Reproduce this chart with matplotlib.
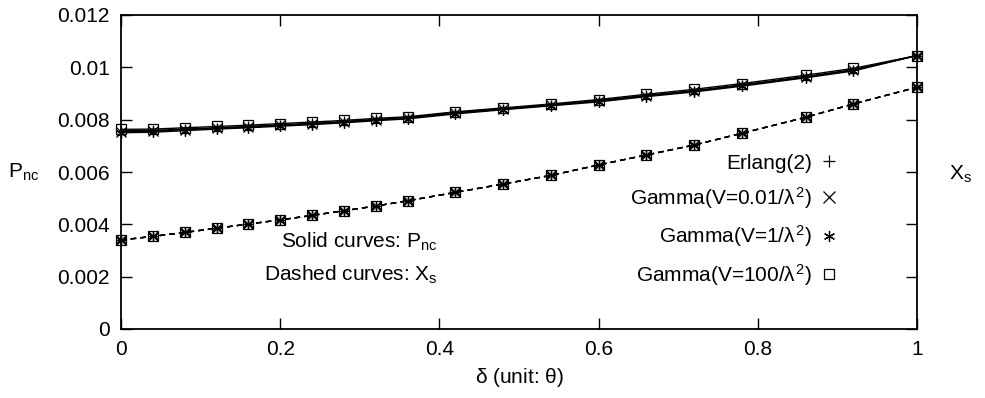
import matplotlib
matplotlib.use("Agg")
import matplotlib.pyplot as plt
from matplotlib.lines import Line2D

plt.rcParams['font.family'] = ['Liberation Sans', 'DejaVu Sans']
plt.rcParams['mathtext.fontset'] = 'custom'
plt.rcParams['mathtext.rm'] = 'Liberation Sans'
plt.rcParams['mathtext.it'] = 'Liberation Sans'

delta = [0.0, 0.04, 0.08, 0.12, 0.16, 0.2, 0.24, 0.28, 0.32, 0.36,
         0.42, 0.48, 0.54, 0.6, 0.66, 0.72, 0.78, 0.86, 0.92, 1.0]

pnc_erlang = [0.00757, 0.00759, 0.00764, 0.00769, 0.00774, 0.00780, 0.00786, 0.00793, 0.00801, 0.00808,
              0.00827, 0.00842, 0.00857, 0.00873, 0.00893, 0.00911, 0.00933, 0.00965, 0.00991, 0.01045]
pnc_g001 = [0.00754, 0.00756, 0.00762, 0.00767, 0.00772, 0.00778, 0.00784, 0.00791, 0.00799, 0.00806,
            0.00825, 0.00840, 0.00855, 0.00871, 0.00891, 0.00909, 0.00931, 0.00963, 0.00989, 0.01045]
pnc_g1 = [0.00750, 0.00752, 0.00758, 0.00764, 0.00769, 0.00775, 0.00781, 0.00788, 0.00796, 0.00803,
          0.00822, 0.00838, 0.00853, 0.00868, 0.00888, 0.00906, 0.00928, 0.00960, 0.00986, 0.01045]
pnc_g100 = [0.00763, 0.00764, 0.00769, 0.00774, 0.00779, 0.00785, 0.00791, 0.00797, 0.00805, 0.00811,
            0.00830, 0.00845, 0.00860, 0.00877, 0.00897, 0.00916, 0.00938, 0.00970, 0.00996, 0.01045]

xs_erlang = [0.00340, 0.00354, 0.00369, 0.00385, 0.00401, 0.00417, 0.00434, 0.00452, 0.00470, 0.00490,
             0.00522, 0.00554, 0.00587, 0.00627, 0.00665, 0.00703, 0.00748, 0.00809, 0.00860, 0.00924]
xs_g001 = [0.00340, 0.00354, 0.00369, 0.00385, 0.00401, 0.00417, 0.00434, 0.00452, 0.00470, 0.00490,
           0.00522, 0.00554, 0.00587, 0.00627, 0.00665, 0.00703, 0.00748, 0.00809, 0.00860, 0.00924]
xs_g1 = [0.00340, 0.00354, 0.00369, 0.00385, 0.00401, 0.00417, 0.00434, 0.00452, 0.00470, 0.00490,
         0.00522, 0.00554, 0.00587, 0.00627, 0.00665, 0.00703, 0.00748, 0.00809, 0.00860, 0.00924]
xs_g100 = [0.00340, 0.00354, 0.00369, 0.00385, 0.00401, 0.00417, 0.00434, 0.00452, 0.00470, 0.00490,
           0.00522, 0.00554, 0.00587, 0.00627, 0.00665, 0.00703, 0.00748, 0.00809, 0.00860, 0.00924]

labels = ['Erlang(2)', r'Gamma(V=0.01/$\lambda^2$)', r'Gamma(V=1/$\lambda^2$)', r'Gamma(V=100/$\lambda^2$)']
markers = ['+', 'x', (6, 2, 0), 's']

xticks = [0, 0.2, 0.4, 0.6, 0.8, 1]
xticklabels = ['0', '0.2', '0.4', '0.6', '0.8', '1']
yticks = [0, 0.002, 0.004, 0.006, 0.008, 0.01, 0.012]
yticklabels = ['0', '0.002', '0.004', '0.006', '0.008', '0.01', '0.012']

FS = 15
fig = plt.figure(figsize=(9.85, 3.98), dpi=100)
ax = fig.add_axes([121/985, 69/398, 796/985, 314/398])

pnc_all = [pnc_erlang, pnc_g001, pnc_g1, pnc_g100]
xs_all = [xs_erlang, xs_g001, xs_g1, xs_g100]
for pnc, xs, m in zip(pnc_all, xs_all, markers):
    ms = 7.5 if m != 's' else 6.5
    ax.plot(delta, pnc, color='black', lw=1.0, ls='-', marker=m, ms=ms,
            mfc='none', mec='black', mew=0.9, clip_on=False)
    ax.plot(delta, xs, color='black', lw=1.0, ls=(0, (4, 3)), marker=m, ms=ms,
            mfc='none', mec='black', mew=0.9, clip_on=False)

ax.set_xlim(0, 1)
ax.set_ylim(0, 0.012)
ax.set_xticks(xticks)
ax.set_xticklabels(xticklabels, fontsize=FS)
ax.set_yticks(yticks)
ax.set_yticklabels(yticklabels, fontsize=FS)
ax.tick_params(direction='in', length=8, width=1, top=True, right=True, pad=8)
ax.tick_params(axis='x', pad=8)
for s in ax.spines.values():
    s.set_linewidth(1.3)

ax.set_xlabel(r'$\delta$ (unit: $\theta$)', fontsize=FS, labelpad=5)
fig.text(24/985, 1 - 172/398, r'P$_{\rm nc}$', fontsize=FS, ha='center', va='center')
fig.text(960/985, 1 - 174/398, r'X$_{\rm s}$', fontsize=FS, ha='center', va='center')

ax.text(0.398, 0.00332, r'Solid curves: P$_{\rm nc}$', fontsize=FS, ha='right', va='center')
ax.text(0.398, 0.00206, r'Dashed curves: X$_{\rm s}$', fontsize=FS, ha='right', va='center')

handles = [Line2D([], [], ls='none', marker=m, color='black', mfc='none', mew=0.9,
                  ms=(8 if m != 's' else 7)) for m in markers]
ax.legend(handles, labels, loc='center right', bbox_to_anchor=(0.9, 0.345),
          frameon=False, markerfirst=False, fontsize=FS, handlelength=0.8,
          handletextpad=0.4, labelspacing=0.6, borderpad=0, borderaxespad=0)

fig.savefig('out.png', dpi=100)
